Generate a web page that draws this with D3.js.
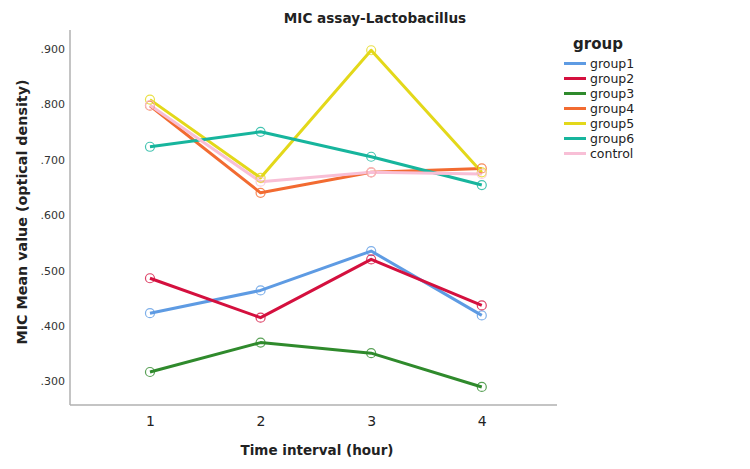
<!DOCTYPE html>
<html><head><meta charset="utf-8">
<script src="https://cdn.jsdelivr.net/npm/d3@7"></script>
<style>body{margin:0;background:#fff;}svg{display:block;font-family:"DejaVu Sans",sans-serif;}</style>
</head><body><svg id="c" width="750" height="469"></svg>
<script>
const times = [1, 2, 3, 4];
const groups = ["group1","group2","group3","group4","group5","group6","control"];
const colors = ["#5e9be3","#d4103e","#2f8a2c","#f26b31","#e3d81a","#17b59d","#f8bfd6"];
const group1 = [0.423, 0.464, 0.535, 0.419];
const group2 = [0.486, 0.415, 0.520, 0.437];
const group3 = [0.317, 0.370, 0.351, 0.290];
const group4 = [0.797, 0.640, 0.677, 0.684];
const group5 = [0.808, 0.667, 0.897, 0.677];
const group6 = [0.723, 0.750, 0.705, 0.654];
const control = [0.798, 0.660, 0.677, 0.674];
const yTicks = [0.3, 0.4, 0.5, 0.6, 0.7, 0.8, 0.9];
const seriesVals = [group1, group2, group3, group4, group5, group6, control];

const svg = d3.select("#c");
const x = d3.scaleLinear().domain([0.277, 4.68]).range([70, 557]);
const y = d3.scaleLinear().domain([0.2575, 0.9335]).range([405, 30]);

svg.append("line").attr("x1",70).attr("x2",70).attr("y1",30).attr("y2",405).attr("stroke","#b0b0b0").attr("stroke-width",1.5);
svg.append("line").attr("x1",70).attr("x2",557).attr("y1",405).attr("y2",405).attr("stroke","#b0b0b0").attr("stroke-width",1.5);

const yAxis = d3.axisLeft(y).tickValues(yTicks).tickSize(0).tickPadding(5)
  .tickFormat(d => d3.format(".3f")(d).replace(/^0/, ""));
const gy = svg.append("g").attr("transform","translate(70,0)").call(yAxis);
gy.select(".domain").remove();
gy.selectAll("text").attr("font-size",11).attr("fill","#333").attr("font-family","DejaVu Sans, sans-serif");

const xAxis = d3.axisBottom(x).tickValues(times).tickSize(0).tickPadding(11).tickFormat(d3.format("d"));
const gx = svg.append("g").attr("transform","translate(0,405)").call(xAxis);
gx.select(".domain").remove();
gx.selectAll("text").attr("font-size",14).attr("fill","#222").attr("font-family","DejaVu Sans, sans-serif");

const line = d3.line().x((d,i)=>x(times[i])).y(d=>y(d));
seriesVals.forEach((vals, k) => {
  svg.append("path").datum(vals).attr("d", line).attr("fill","none")
    .attr("stroke", colors[k]).attr("stroke-width", 3).attr("stroke-linejoin","round");
});
seriesVals.forEach((vals, k) => {
  svg.selectAll(null).data(vals).enter().append("circle")
    .attr("cx",(d,i)=>x(times[i])).attr("cy",d=>y(d)).attr("r",4.5)
    .attr("fill","none").attr("stroke", colors[k]).attr("stroke-width",1.2).attr("opacity",0.8);
});

svg.append("text").attr("x",375).attr("y",23).attr("text-anchor","middle")
  .attr("font-size",13.6).attr("font-weight","bold").attr("fill","#222").text("MIC assay-Lactobacillus");
svg.append("text").attr("x",317).attr("y",455).attr("text-anchor","middle")
  .attr("font-size",13.5).attr("font-weight","bold").attr("fill","#222").text("Time interval (hour)");
svg.append("text").attr("transform","translate(27,212) rotate(-90)").attr("text-anchor","middle")
  .attr("font-size",14.3).attr("font-weight","bold").attr("fill","#222").text("MIC Mean value (optical density)");

svg.append("text").attr("x",598).attr("y",49).attr("text-anchor","middle")
  .attr("font-size",15).attr("font-weight","bold").attr("fill","#222").text("group");
groups.forEach((g,k)=>{
  const yy = 63.5 + k*15;
  svg.append("line").attr("x1",564).attr("x2",586).attr("y1",yy).attr("y2",yy)
    .attr("stroke",colors[k]).attr("stroke-width",3);
  svg.append("text").attr("x",590).attr("y",yy+4.5).attr("font-size",12.5).attr("fill","#222").text(g);
});
</script></body></html>
